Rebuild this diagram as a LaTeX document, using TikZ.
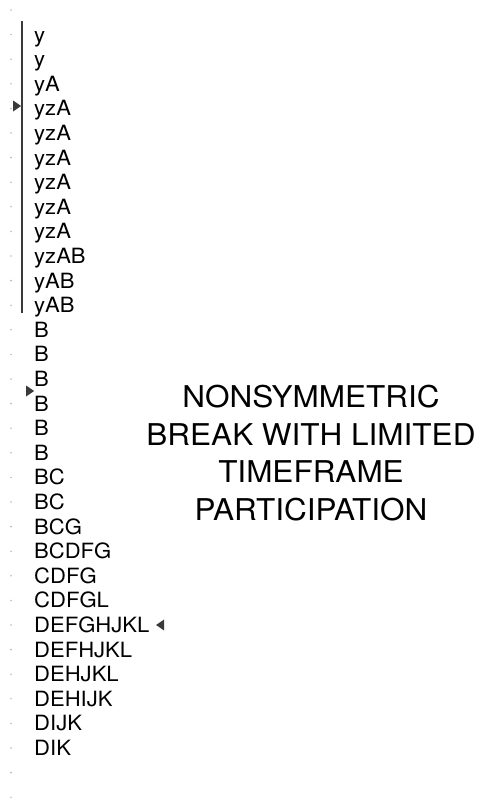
\documentclass[tikz,border=0pt]{standalone}
\usepackage{fontspec}
\setmainfont[FakeStretch=1.05]{TeX Gyre Heros}
\usetikzlibrary{positioning}
\usetikzlibrary{shapes.geometric}
\definecolor{bargray}{HTML}{3a3a3a}

\tikzset{
    rowdot/.style={circle, fill=gray!55, inner sep=0pt, minimum size=1.8pt},
    rowlabel/.style={anchor=west, inner sep=0pt, font=\fontsize{21}{21}\selectfont, text height=15pt, text depth=0pt},
    pointer/.style={isosceles triangle, isosceles triangle stretches, fill=bargray, inner sep=0pt, minimum height=8pt, minimum width=11pt},
    bar/.style={line width=2.8pt, draw=bargray},
}

\begin{document}
\begin{tikzpicture}[x=1pt, y=-1pt]
                \useasboundingbox(0, 0) rectangle (480, 800);

                \foreach \i in {0,...,32}
                    \node[rowdot](dot\i) at (11, 10+24.6*\i){};

                \foreach \lbl [count=\i] in {y, y, yA, yzA, yzA, yzA, yzA, yzA, yzA, yzAB, yAB, yAB,
                        B, B, B, B, B, B, BC, BC, BCG, BCDFG, CDFG, CDFGL,
                        DEFGHJKL, DEFHJKL, DEHJKL, DEHIJK, DIJK, DIK}
                    \node[rowlabel](row\i) at (34, 10+24.6*\i){\lbl};

                \coordinate(barTop) at (22, 21);
                \coordinate(barBot) at (22, 313);
                \draw[bar](barTop)--(barBot);

                \node[pointer](pointA) at (16, 106){};
                \node[pointer](pointB) at (29, 391){};
                \node[pointer, shape border rotate=180, right=6pt of row25](pointC){};

                \node[align=center, font=\fontsize{30}{37.6}\selectfont](title) at (311, 453)
                    {NONSYMMETRIC\\BREAK WITH LIMITED\\TIMEFRAME\\PARTICIPATION};
            \end{tikzpicture}
\end{document}
